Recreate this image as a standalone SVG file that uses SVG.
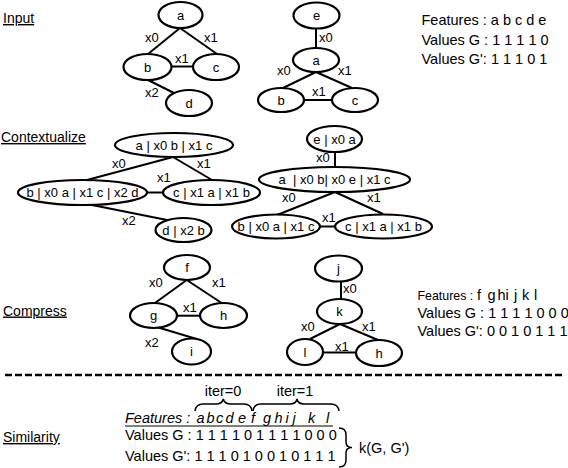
<svg xmlns="http://www.w3.org/2000/svg" width="568" height="468" viewBox="0 0 568 468">
<style>
text{font-family:"Liberation Sans",Arial,sans-serif;fill:#000}
.n ellipse{fill:#fff;stroke:#000;stroke-width:2.2}
.n text{font-size:13px;text-anchor:middle}
.c line{stroke:#000;stroke-width:2}
.l{font-size:13px}
.s{font-size:14px;text-decoration:underline}
.f{font-size:14.5px}
.b{fill:none;stroke:#000;stroke-width:1.5}
</style>
<rect width="568" height="468" fill="#fff"/>

<text class="s" x="3" y="23">Input</text>
<text class="s" x="1" y="142">Contextualize</text>
<text class="s" x="3" y="315.5">Compress</text>
<text class="s" x="3" y="442">Similarity</text>

<g id="connectors" class="c">
<line x1="180" y1="28" x2="148" y2="54"/>
<line x1="180" y1="28" x2="217" y2="54"/>
<line x1="171" y1="66.5" x2="193" y2="66.5"/>
<line x1="148" y1="80" x2="174" y2="93"/>
<line x1="316" y1="28" x2="316" y2="48"/>
<line x1="316" y1="72" x2="283" y2="88"/>
<line x1="316" y1="72" x2="352" y2="88"/>
<line x1="304" y1="100" x2="332" y2="100"/>
<line x1="173" y1="157" x2="87" y2="180"/>
<line x1="173" y1="157" x2="212" y2="180"/>
<line x1="147" y1="192.5" x2="163" y2="192.5"/>
<line x1="92" y1="205" x2="167" y2="220"/>
<line x1="335" y1="152" x2="335" y2="167"/>
<line x1="335" y1="192" x2="277" y2="215"/>
<line x1="335" y1="192" x2="383" y2="214"/>
<line x1="320" y1="226.5" x2="335" y2="226.5"/>
<line x1="186.7" y1="280" x2="155" y2="303"/>
<line x1="186.7" y1="280" x2="221.7" y2="303"/>
<line x1="177" y1="315.7" x2="200" y2="315.7"/>
<line x1="156.7" y1="327" x2="196.7" y2="339"/>
<line x1="341" y1="282" x2="341" y2="299"/>
<line x1="340" y1="324" x2="310" y2="339"/>
<line x1="340" y1="324" x2="378" y2="340"/>
<line x1="322" y1="352.5" x2="356" y2="352.5"/>
</g>

<g id="edge-labels">
<text class="l" x="145" y="42">x0</text>
<text class="l" x="204" y="42">x1</text>
<text class="l" x="175" y="63">x1</text>
<text class="l" x="145" y="97">x2</text>
<text class="l" x="319" y="42">x0</text>
<text class="l" x="277" y="75">x0</text>
<text class="l" x="338" y="75">x1</text>
<text class="l" x="312" y="96">x1</text>
<text class="l" x="112" y="167.5">x0</text>
<text class="l" x="197" y="167.5">x1</text>
<text class="l" x="157" y="181.5">x1</text>
<text class="l" x="122" y="225">x2</text>
<text class="l" x="316" y="161.5">x0</text>
<text class="l" x="282" y="202">x0</text>
<text class="l" x="367" y="202">x1</text>
<text class="l" x="322" y="221.5">x1</text>
<text class="l" x="149" y="287">x0</text>
<text class="l" x="212" y="287">x1</text>
<text class="l" x="183" y="311.5">x1</text>
<text class="l" x="145" y="346.5">x2</text>
<text class="l" x="343" y="293">x0</text>
<text class="l" x="301" y="330.5">x0</text>
<text class="l" x="362" y="330.5">x1</text>
<text class="l" x="335" y="350.5">x1</text>
</g>

<g id="in-a" class="n"><ellipse cx="180.5" cy="15" rx="22" ry="13"/><text x="180.5" y="19.5">a</text></g>
<g id="in-b" class="n"><ellipse cx="147.5" cy="67" rx="24" ry="13"/><text x="147.5" y="71.5">b</text></g>
<g id="in-c" class="n"><ellipse cx="216" cy="67" rx="23" ry="13"/><text x="216" y="71.5">c</text></g>
<g id="in-d" class="n"><ellipse cx="189" cy="103" rx="23" ry="13"/><text x="189" y="107.5">d</text></g>

<g id="in2-e" class="n"><ellipse cx="316.5" cy="15.5" rx="23" ry="13"/><text x="316.5" y="20">e</text></g>
<g id="in2-a" class="n"><ellipse cx="316" cy="60" rx="23" ry="12"/><text x="316" y="64.5">a</text></g>
<g id="in2-b" class="n"><ellipse cx="281" cy="100" rx="23" ry="12"/><text x="281" y="104.5">b</text></g>
<g id="in2-c" class="n"><ellipse cx="355" cy="100" rx="23" ry="12"/><text x="355" y="104.5">c</text></g>

<g id="ctx-a" class="n"><ellipse cx="174" cy="145" rx="59" ry="12"/><text x="174" y="149.5">a | x0 b | x1 c</text></g>
<g id="ctx-b" class="n"><ellipse cx="82.5" cy="192.5" rx="64.5" ry="12.5"/><text x="82.5" y="197">b | x0 a | x1 c | x2 d</text></g>
<g id="ctx-c" class="n"><ellipse cx="211.5" cy="192.5" rx="48.5" ry="12.5"/><text x="211.5" y="197">c | x1 a | x1 b</text></g>
<g id="ctx-d" class="n"><ellipse cx="183.5" cy="230" rx="28" ry="12"/><text x="183.5" y="234.5">d | x2 b</text></g>

<g id="ctx2-e" class="n"><ellipse cx="334.5" cy="139" rx="27.5" ry="13"/><text x="334.5" y="143.5">e | x0 a</text></g>
<g id="ctx2-a" class="n"><ellipse cx="334.5" cy="179.5" rx="75.5" ry="12.5"/><text x="334.5" y="184" xml:space="preserve">a  | x0 b| x0 e | x1 c</text></g>
<g id="ctx2-b" class="n"><ellipse cx="276" cy="226.5" rx="44" ry="12"/><text x="276" y="231">b | x0 a | x1 c</text></g>
<g id="ctx2-c" class="n"><ellipse cx="383.5" cy="226.5" rx="48.5" ry="12"/><text x="383.5" y="231">c | x1 a | x1 b</text></g>

<g id="cmp-f" class="n"><ellipse cx="187" cy="267.5" rx="23" ry="12.5"/><text x="187" y="272">f</text></g>
<g id="cmp-g" class="n"><ellipse cx="153.5" cy="315.5" rx="23.5" ry="12.5"/><text x="153.5" y="320">g</text></g>
<g id="cmp-h" class="n"><ellipse cx="223.5" cy="315.5" rx="23.5" ry="12.5"/><text x="223.5" y="320">h</text></g>
<g id="cmp-i" class="n"><ellipse cx="191.5" cy="351.5" rx="19.5" ry="13"/><text x="191.5" y="356">i</text></g>

<g id="cmp2-j" class="n"><ellipse cx="338.5" cy="268.5" rx="23.5" ry="13"/><text x="338.5" y="273">j</text></g>
<g id="cmp2-k" class="n"><ellipse cx="339.5" cy="311.5" rx="22.5" ry="12.5"/><text x="339.5" y="316">k</text></g>
<g id="cmp2-l" class="n"><ellipse cx="305" cy="352" rx="18" ry="13"/><text x="305" y="356.5">l</text></g>
<g id="cmp2-h" class="n"><ellipse cx="379" cy="353" rx="23" ry="13"/><text x="379" y="357.5">h</text></g>

<g id="features-input" class="f">
<text x="421.5" y="25">Features : a b c d e</text>
<text x="421.5" y="44.5">Values G : 1 1 1 1 0</text>
<text x="421.5" y="63.5">Values G': 1 1 1 0 1</text>
</g>

<g id="features-compress" class="f">
<text x="417.5" y="300" font-size="12.4">Features :</text>
<text y="300"><tspan x="477">f</tspan><tspan x="487.5">g</tspan><tspan x="497.5">h</tspan><tspan x="505.5">i</tspan><tspan x="514">j</tspan><tspan x="522">k</tspan><tspan x="534">l</tspan></text>
<text x="417.5" y="318">Values G : 1 1 1 1 0 0 0</text>
<text x="417.5" y="336">Values G': 0 0 1 0 1 1 1</text>
</g>

<line x1="5" y1="375" x2="565" y2="375" stroke="#000" stroke-width="2.5" stroke-dasharray="7 3"/>

<g id="similarity">
<text class="f" x="223" y="396" text-anchor="middle">iter=0</text>
<text class="f" x="295" y="396" text-anchor="middle">iter=1</text>
<path class="b" d="M195,411 Q196,404 203,404 L216,404 Q222,404 223.3,399 Q224.5,404 231,404 L244,404 Q251,404 252,411"/>
<path class="b" d="M253,411 Q254,404 261,404 L290,404 Q296,404 297,399 Q298,404 304,404 L331,404 Q338,404 339,411"/>
<text class="f" x="125" y="423" font-style="italic">Features : <tspan x="196.5">a</tspan><tspan x="206.5">b</tspan><tspan x="216">c</tspan><tspan x="225.5">d</tspan><tspan x="238">e</tspan><tspan x="251">f</tspan><tspan x="263">g</tspan><tspan x="274.5">h</tspan><tspan x="285.5">i</tspan><tspan x="292.5">j</tspan><tspan x="308">k</tspan><tspan x="326">l</tspan></text>
<line x1="125" y1="426" x2="333" y2="426" stroke="#000" stroke-width="1"/>
<text class="f" x="125" y="440">Values G : 1 1 1 1 0 1 1 1 1 0 0 0</text>
<text class="f" x="125" y="461">Values G': 1 1 1 0 1 0 0 1 0 1 1 1</text>
<path class="b" d="M339,428 Q346,428 346,435 L346,442 Q346,447.5 352,447.5 Q346,447.5 346,453 L346,460 Q346,467 339,467"/>
<text class="f" x="359" y="453">k(G, G')</text>
</g>
</svg>
